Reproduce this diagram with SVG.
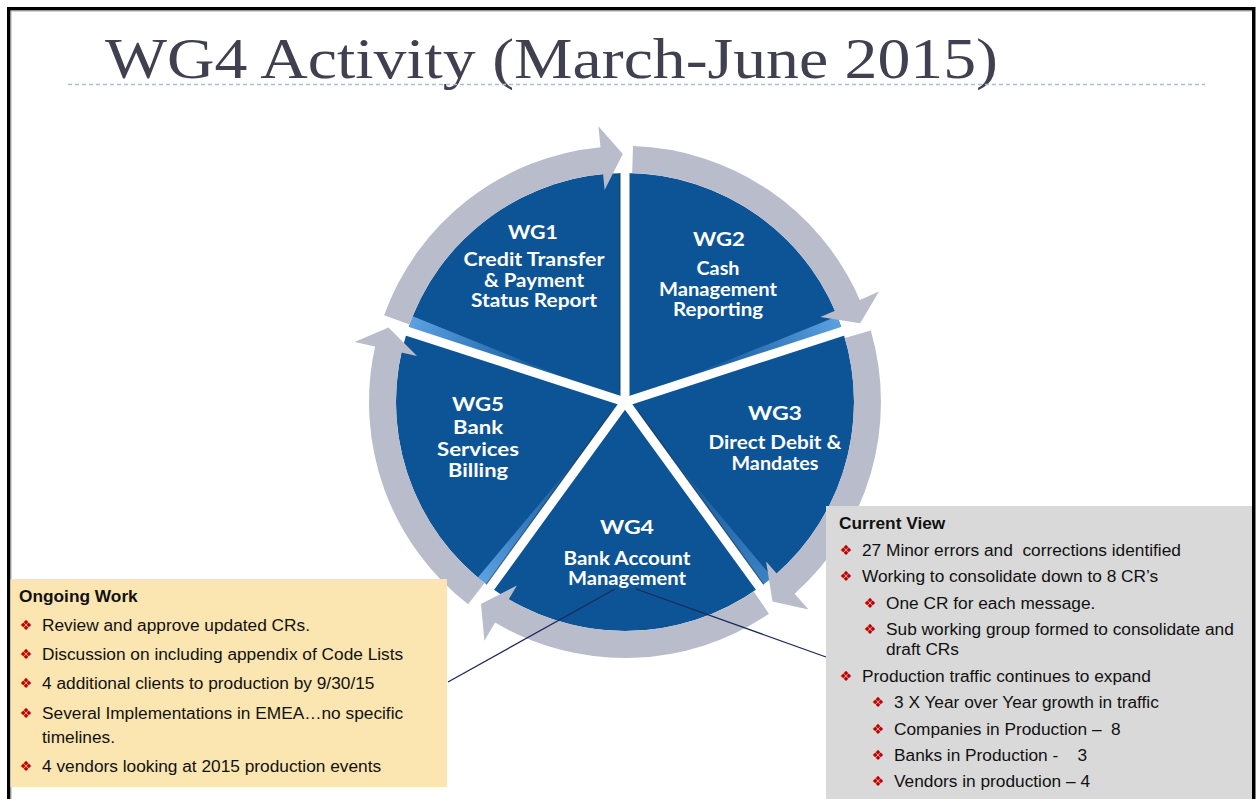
<svg xmlns="http://www.w3.org/2000/svg" width="1257" height="799" viewBox="0 0 1257 799">
<defs>
<radialGradient id="hlg" gradientUnits="userSpaceOnUse" cx="625" cy="402" r="229">
<stop offset="0" stop-color="#6aaeef" stop-opacity="0"/>
<stop offset="0.45" stop-color="#6aaeef" stop-opacity="0.15"/>
<stop offset="1" stop-color="#6aaeef" stop-opacity="0.85"/>
</radialGradient>
<style>
.wedge{fill:#0d5497}
.hl{fill:url(#hlg)}
.lbl{font-family:Lato,"Open Sans",sans-serif;font-weight:700;font-size:18px;fill:#fff;text-anchor:middle}
.ring{fill:#b8bccb}
.div{stroke:#fff;stroke-width:9;fill:none}
.shadow{stroke:#2a2a2a;stroke-opacity:0.45;stroke-width:1.5;fill:none}
.leader{stroke:#1b2a5a;stroke-width:1.3;fill:none}
.bx{font-family:"Liberation Sans",Arial,sans-serif;font-size:17.3px;fill:#111}
.hd{font-weight:700;font-size:17.3px}
.bul{font-family:"DejaVu Sans",sans-serif;font-size:14px;fill:#c00000;text-anchor:middle}
</style>
</defs>
<rect x="0" y="0" width="1257" height="799" fill="#fff"/>
<g id="frame">
<rect x="7" y="7" width="1248" height="3.5" fill="#000"/>
<rect x="7" y="7" width="3.5" height="792" fill="#000"/>
<rect x="1252" y="7" width="3.5" height="792" fill="#000"/>
<line x1="10.5" y1="11" x2="1252" y2="11" stroke="#aaa" stroke-width="1"/>
<line x1="11" y1="11" x2="11" y2="799" stroke="#aaa" stroke-width="1"/>
</g>
<g id="title">
<text x="105" y="78" font-family="'Liberation Serif','Times New Roman',serif" font-size="58" fill="#404050" textLength="893" lengthAdjust="spacingAndGlyphs">WG4 Activity (March-June 2015)</text>
<line x1="68" y1="84.5" x2="1205" y2="84.5" stroke="#a7bfd6" stroke-width="1.3" stroke-dasharray="4 3"/>
</g>
<g id="wg1">
<path class="wedge" d="M625,402 L407.2,331.2 A229,229 0 0 1 625,173 Z"/>
<path class="hl" d="M625,402 L407.2,331.2 L412.7,316.2 Z"/>
<text class="lbl" x="533" y="239" textLength="50" lengthAdjust="spacingAndGlyphs">WG1</text>
<text class="lbl" x="534" y="266" textLength="141" lengthAdjust="spacingAndGlyphs">Credit Transfer</text>
<text class="lbl" x="534" y="287" textLength="100" lengthAdjust="spacingAndGlyphs">&amp; Payment</text>
<text class="lbl" x="534" y="307" textLength="126" lengthAdjust="spacingAndGlyphs">Status Report</text>
</g>
<g id="wg2">
<path class="wedge" d="M625,402 L625,173 A229,229 0 0 1 842.8,331.2 Z"/>
<path class="hl" d="M625,402 L842.8,331.2 L837.3,316.2 Z"/>
<text class="lbl" x="719" y="246" textLength="52" lengthAdjust="spacingAndGlyphs">WG2</text>
<text class="lbl" x="718" y="275" textLength="43" lengthAdjust="spacingAndGlyphs">Cash</text>
<text class="lbl" x="718" y="296" textLength="118" lengthAdjust="spacingAndGlyphs">Management</text>
<text class="lbl" x="718" y="316" textLength="90" lengthAdjust="spacingAndGlyphs">Reporting</text>
</g>
<g id="wg3">
<path class="wedge" d="M625,402 L842.8,331.2 A229,229 0 0 1 759.6,587.3 Z"/>
<path class="hl" d="M625,402 L759.6,587.3 L772.2,577.4 Z" opacity="0.6"/>
<text class="lbl" x="775" y="420" textLength="54" lengthAdjust="spacingAndGlyphs">WG3</text>
<text class="lbl" x="775" y="449" textLength="133" lengthAdjust="spacingAndGlyphs">Direct Debit &amp;</text>
<text class="lbl" x="775" y="470" textLength="87" lengthAdjust="spacingAndGlyphs">Mandates</text>
</g>
<g id="wg4">
<path class="wedge" d="M625,402 L759.6,587.3 A229,229 0 0 1 490.4,587.3 Z"/>
<text class="lbl" x="627" y="534" textLength="54" lengthAdjust="spacingAndGlyphs">WG4</text>
<text class="lbl" x="627" y="565" textLength="127" lengthAdjust="spacingAndGlyphs">Bank Account</text>
<text class="lbl" x="627" y="585" textLength="118" lengthAdjust="spacingAndGlyphs">Management</text>
</g>
<g id="wg5">
<path class="wedge" d="M625,402 L490.4,587.3 A229,229 0 0 1 407.2,331.2 Z"/>
<path class="hl" d="M625,402 L490.4,587.3 L477.8,577.4 Z"/>
<text class="lbl" x="478" y="411" textLength="52" lengthAdjust="spacingAndGlyphs">WG5</text>
<text class="lbl" x="478" y="434" textLength="50" lengthAdjust="spacingAndGlyphs">Bank</text>
<text class="lbl" x="478" y="456" textLength="82" lengthAdjust="spacingAndGlyphs">Services</text>
<text class="lbl" x="478" y="477" textLength="60" lengthAdjust="spacingAndGlyphs">Billing</text>
</g>
<g id="dividers">
<line class="shadow" x1="620" y1="390" x2="620" y2="173"/>
<line class="shadow" x1="612.1" y1="411.2" x2="486.4" y2="584.4"/>
<line class="shadow" x1="637.9" y1="411.2" x2="763.6" y2="584.4"/>
<line class="div" x1="625" y1="402" x2="625" y2="171"/>
<line class="div" x1="625" y1="402" x2="844.7" y2="330.6"/>
<line class="div" x1="625" y1="402" x2="760.8" y2="588.9"/>
<line class="div" x1="625" y1="402" x2="489.2" y2="588.9"/>
<line class="div" x1="625" y1="402" x2="405.3" y2="330.6"/>
<circle cx="625" cy="402" r="6" fill="#fff"/>
</g>
<g id="connectors">
<path class="ring" d="M632.2,173.1 L633.0,146.1 A256,256 0 0 1 859.8,299.9 L879.0,291.5 L860.2,323.3 L820.3,317.1 L835.0,310.7 A229,229 0 0 0 632.2,173.1 Z"/>
<path class="ring" d="M844.9,338.1 L870.8,330.6 A256,256 0 0 1 794.6,593.7 L808.5,609.5 L772.5,601.4 L766.1,561.5 L776.7,573.5 A229,229 0 0 0 844.9,338.1 Z"/>
<path class="ring" d="M753.7,591.4 L768.9,613.7 A256,256 0 0 1 495.1,622.6 L484.4,640.7 L481.0,603.9 L516.9,585.5 L508.8,599.3 A229,229 0 0 0 753.7,591.4 Z"/>
<path class="ring" d="M484.6,583.0 L468.1,604.3 A256,256 0 0 1 375.1,346.6 L354.6,342.0 L388.5,327.4 L417.0,355.9 L401.4,352.4 A229,229 0 0 0 484.6,583.0 Z"/>
<path class="ring" d="M409.5,324.4 L384.1,315.3 A256,256 0 0 1 600.5,147.2 L598.4,126.3 L622.8,154.0 L604.6,190.0 L603.1,174.1 A229,229 0 0 0 409.5,324.4 Z"/>
<line class="leader" x1="615" y1="589" x2="448" y2="682"/>
<line class="leader" x1="636" y1="589" x2="826" y2="657"/>
</g>
<g id="ongoing-work">
<rect x="10.5" y="579" width="436.5" height="208" fill="#fbe5b0"/>
<text class="bx hd" x="19" y="602">Ongoing Work</text>
<text class="bul" x="26" y="630">❖</text><text class="bx" x="42" y="631">Review and approve updated CRs.</text>
<text class="bul" x="26" y="659">❖</text><text class="bx" x="42" y="660">Discussion on including appendix of Code Lists</text>
<text class="bul" x="26" y="688">❖</text><text class="bx" x="42" y="689">4 additional clients to production by 9/30/15</text>
<text class="bul" x="26" y="718">❖</text><text class="bx" x="42" y="719">Several Implementations in EMEA…no specific</text>
<text class="bx" x="42" y="743">timelines.</text>
<text class="bul" x="26" y="771">❖</text><text class="bx" x="42" y="772">4 vendors looking at 2015 production events</text>
</g>
<g id="current-view">
<rect x="826" y="506" width="426" height="293" fill="#d9d9d9"/>
<text class="bx hd" x="839" y="529">Current View</text>
<text class="bul" x="846" y="555">❖</text><text class="bx" x="862" y="556" xml:space="preserve">27 Minor errors and  corrections identified</text>
<text class="bul" x="846" y="581">❖</text><text class="bx" x="862" y="582">Working to consolidate down to 8 CR’s</text>
<text class="bul" x="870" y="608">❖</text><text class="bx" x="886" y="609">One CR for each message.</text>
<text class="bul" x="870" y="634">❖</text><text class="bx" x="886" y="635">Sub working group formed to consolidate and</text>
<text class="bx" x="886" y="655">draft CRs</text>
<text class="bul" x="846" y="681">❖</text><text class="bx" x="862" y="682">Production traffic continues to expand</text>
<text class="bul" x="878" y="707">❖</text><text class="bx" x="894" y="708">3 X Year over Year growth in traffic</text>
<text class="bul" x="878" y="734">❖</text><text class="bx" x="894" y="735" xml:space="preserve">Companies in Production –  8</text>
<text class="bul" x="878" y="760">❖</text><text class="bx" x="894" y="761" xml:space="preserve">Banks in Production -    3</text>
<text class="bul" x="878" y="786">❖</text><text class="bx" x="894" y="787">Vendors in production – 4</text>
</g>
</svg>
